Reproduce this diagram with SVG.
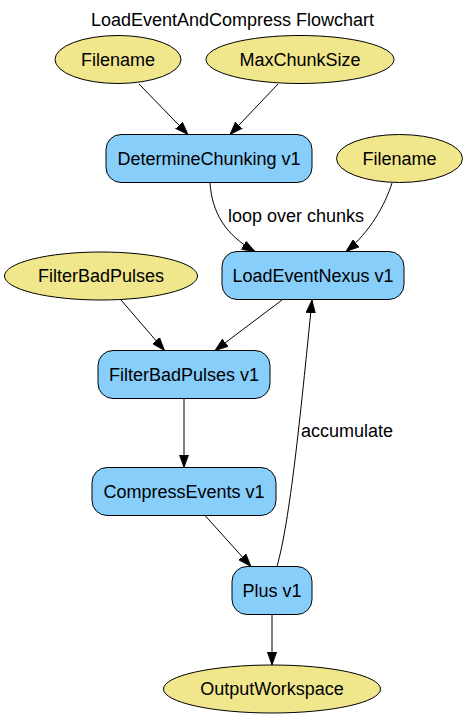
<svg xmlns="http://www.w3.org/2000/svg" width="468" height="719" viewBox="0 0 468 719">
<style>
text{font-family:"Liberation Sans",Arial,Helvetica,sans-serif;font-size:18px;fill:#000;text-anchor:middle}
.io{fill:#f0e68c;stroke:#000;stroke-width:1}
.alg{fill:#87cefa;stroke:#000;stroke-width:1}
.e{fill:none;stroke:#000;stroke-width:1;marker-end:url(#arr)}
</style>
<defs>
<marker id="arr" markerWidth="13" markerHeight="10" refX="13" refY="5" orient="auto" markerUnits="userSpaceOnUse">
<path d="M0,0.3 L13,5 L0,9.7 z" fill="#000" stroke="#000" stroke-width="0.8"/>
</marker>
</defs>
<rect width="468" height="719" fill="#fff"/>
<text x="232.5" y="25.5">LoadEventAndCompress Flowchart</text>
<g id="connectors">
<path class="e" d="M139,84 L188,134.5"/>
<path class="e" d="M278,84 L230,134.5"/>
<path class="e" d="M210,183 C212,212 225,235 255,251.5"/>
<path class="e" d="M392,183 C385,205 370,232 346,251.5"/>
<path class="e" d="M121,300 L164.5,350.5"/>
<path class="e" d="M282,300 L215,350.5"/>
<path class="e" d="M184,398.5 L184,467.5"/>
<path class="e" d="M205,515.5 L251,566.5"/>
<path class="e" d="M277,566.5 C290,520 300,420 312,300"/>
<path class="e" d="M272,614.5 L272,665"/>
<text x="296" y="221.7">loop over chunks</text>
<text x="347" y="437">accumulate</text>
</g>
<g id="n_filename1"><ellipse class="io" cx="118" cy="59.5" rx="63" ry="24"/><text x="118" y="65.5">Filename</text></g>
<g id="n_maxchunk"><ellipse class="io" cx="300" cy="59.5" rx="94" ry="24"/><text x="300" y="65.5">MaxChunkSize</text></g>
<g id="n_determine"><rect class="alg" x="106" y="134.5" width="206" height="48" rx="15"/><text x="209" y="164.5">DetermineChunking v1</text></g>
<g id="n_filename2"><ellipse class="io" cx="399.5" cy="158.5" rx="63" ry="24"/><text x="399.5" y="164.5">Filename</text></g>
<g id="n_load"><rect class="alg" x="222" y="251.5" width="182" height="48" rx="15"/><text x="313" y="281.5">LoadEventNexus v1</text></g>
<g id="n_fbp_in"><ellipse class="io" cx="101" cy="276" rx="96.5" ry="24"/><text x="101" y="282">FilterBadPulses</text></g>
<g id="n_fbp"><rect class="alg" x="98" y="350.5" width="172" height="48" rx="15"/><text x="184" y="380.5">FilterBadPulses v1</text></g>
<g id="n_compress"><rect class="alg" x="92" y="467.5" width="184" height="48" rx="15"/><text x="184" y="497.5">CompressEvents v1</text></g>
<g id="n_plus"><rect class="alg" x="232" y="566.5" width="80" height="48" rx="15"/><text x="272" y="596.5">Plus v1</text></g>
<g id="n_output"><ellipse class="io" cx="272" cy="689" rx="108.5" ry="24"/><text x="272" y="695">OutputWorkspace</text></g>
</svg>
